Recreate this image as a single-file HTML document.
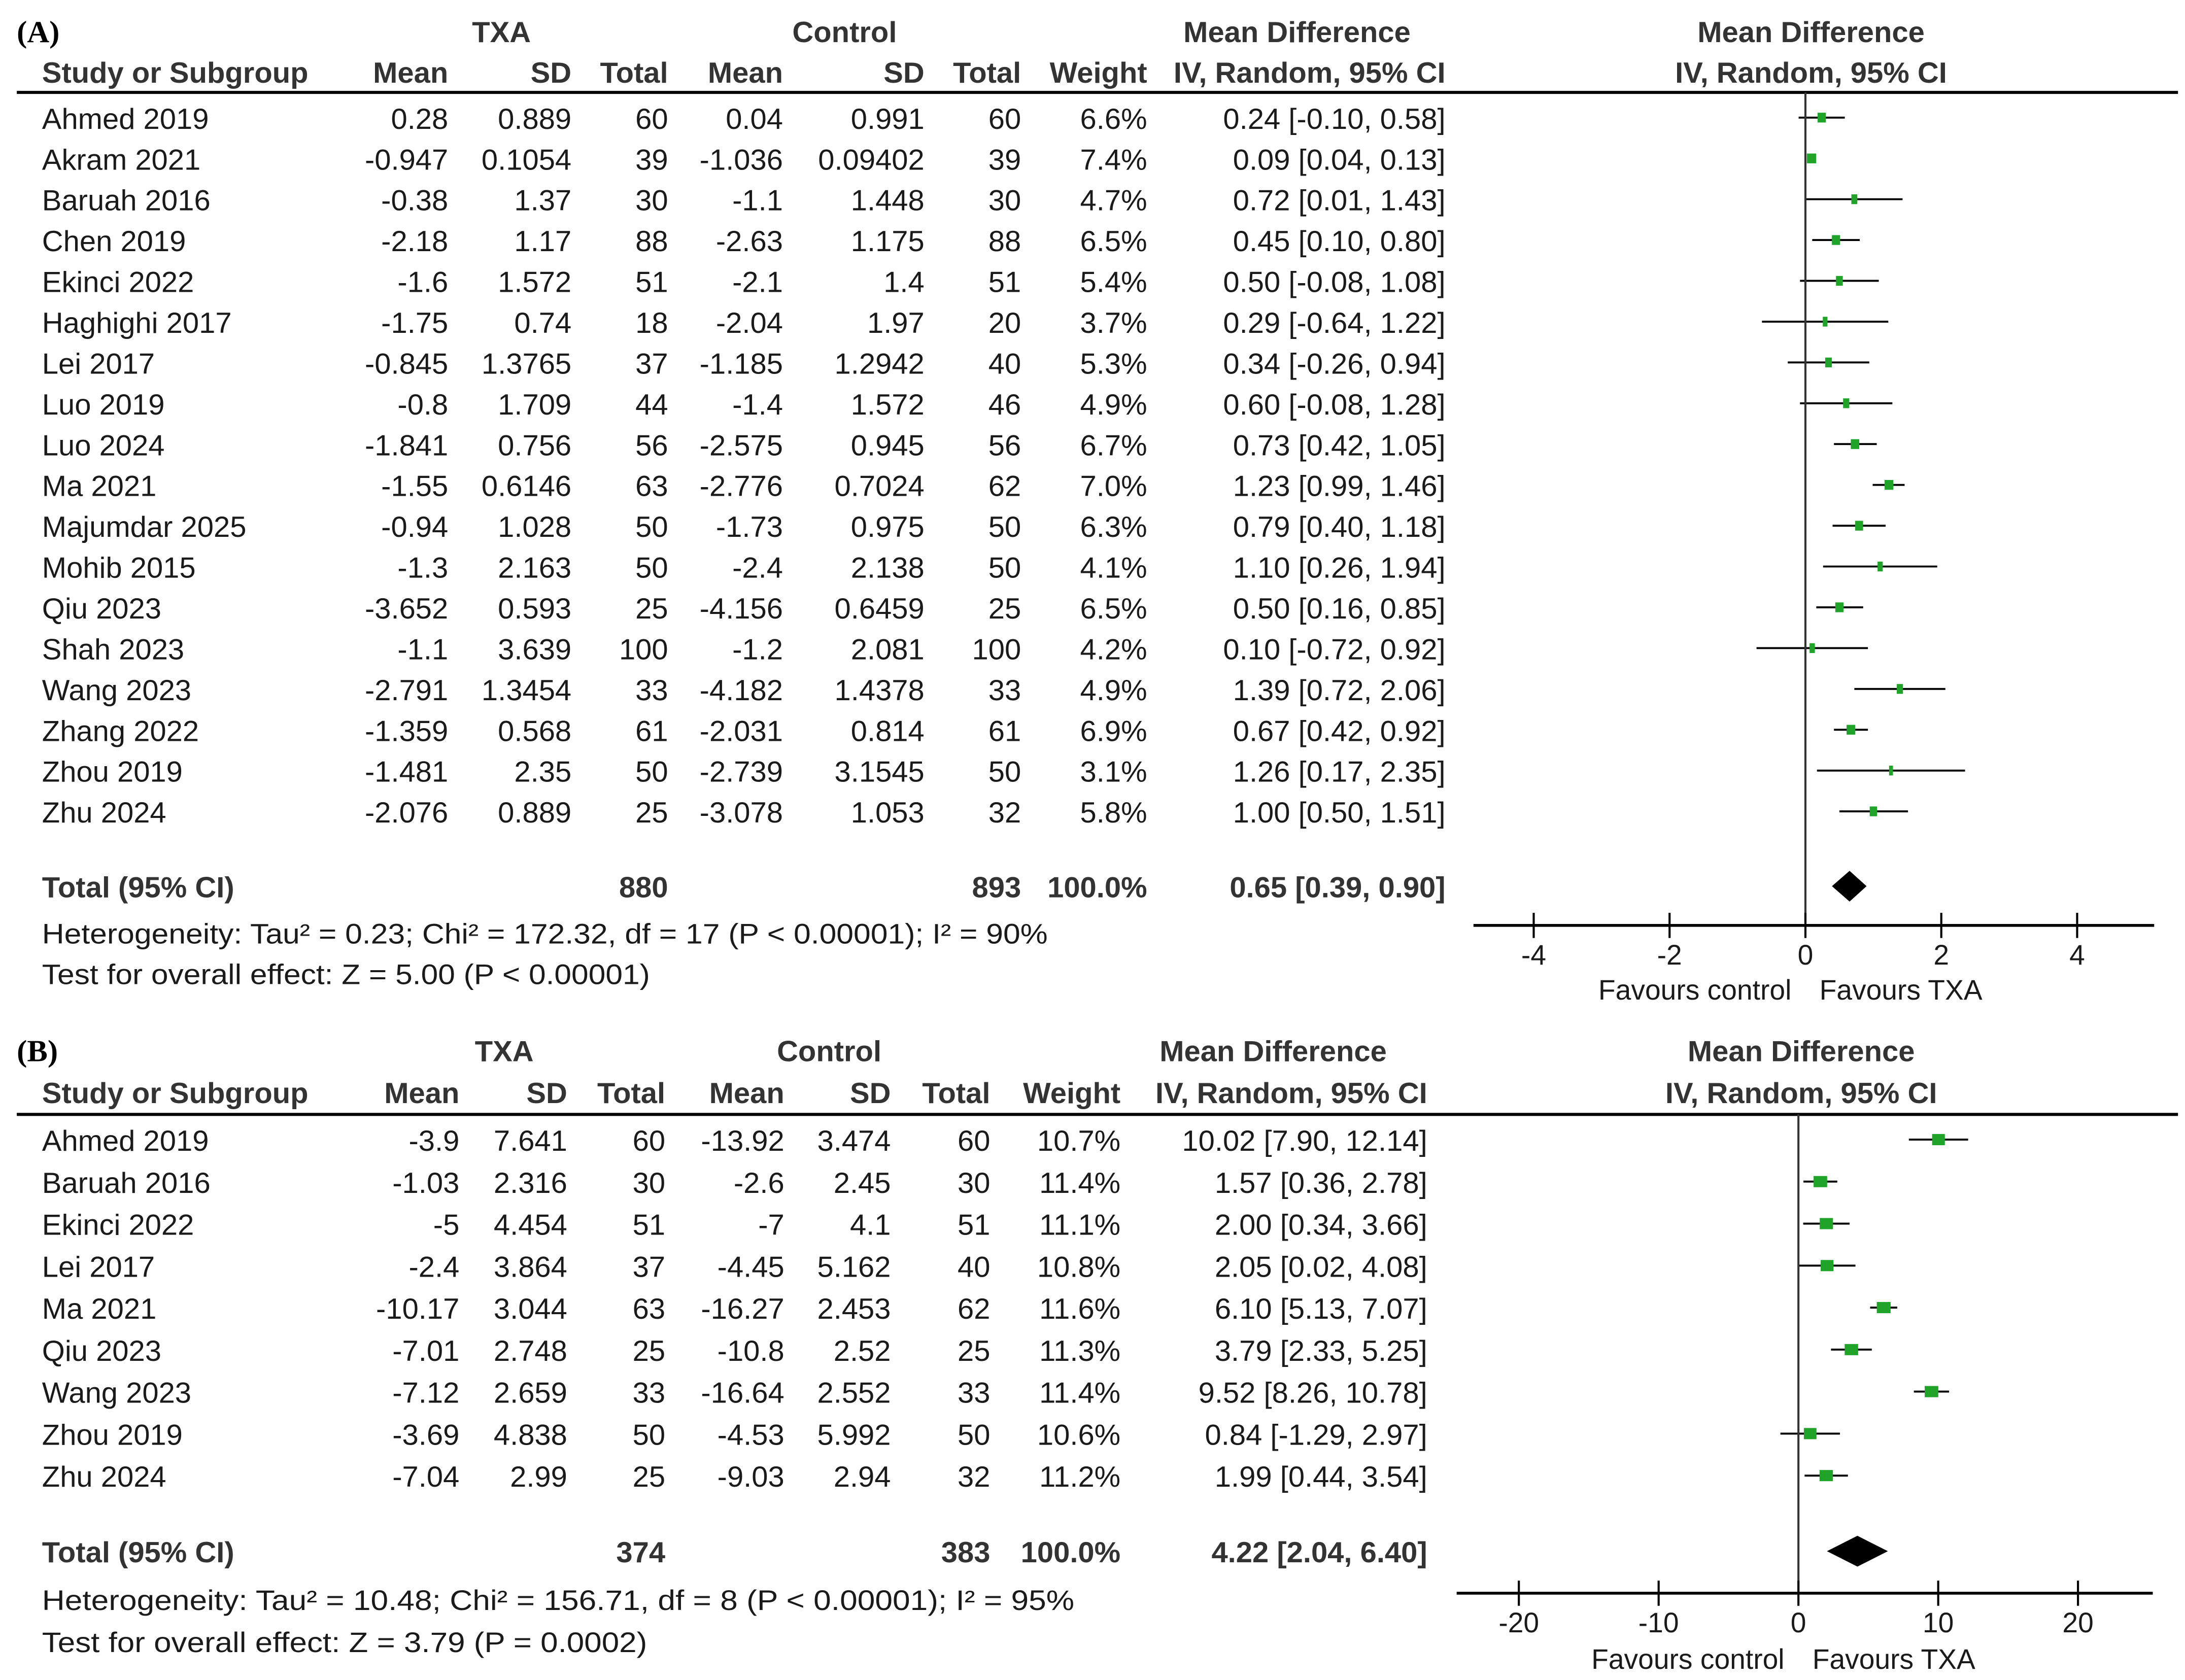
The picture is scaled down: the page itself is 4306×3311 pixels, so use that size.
<!DOCTYPE html>
<html><head><meta charset="utf-8"><style>
html,body{margin:0;padding:0;background:#fff}
svg{display:block}
text{font-family:"Liberation Sans",Arial,sans-serif;fill:#1a1a1a}
.b{font-weight:bold;fill:#333}
</style></head><body>
<svg id="chart" xmlns="http://www.w3.org/2000/svg" width="4306" height="3311" viewBox="0 0 1560 1200" preserveAspectRatio="none">
<rect width="1560" height="1200" fill="#fff"/>
</svg>
<script>
// Panel A data
const studiesA=["Ahmed 2019","Akram 2021","Baruah 2016","Chen 2019","Ekinci 2022","Haghighi 2017","Lei 2017","Luo 2019","Luo 2024","Ma 2021","Majumdar 2025","Mohib 2015","Qiu 2023","Shah 2023","Wang 2023","Zhang 2022","Zhou 2019","Zhu 2024"];
const txaMeanA=["0.28","-0.947","-0.38","-2.18","-1.6","-1.75","-0.845","-0.8","-1.841","-1.55","-0.94","-1.3","-3.652","-1.1","-2.791","-1.359","-1.481","-2.076"];
const txaSdA=["0.889","0.1054","1.37","1.17","1.572","0.74","1.3765","1.709","0.756","0.6146","1.028","2.163","0.593","3.639","1.3454","0.568","2.35","0.889"];
const txaNA=[60,39,30,88,51,18,37,44,56,63,50,50,25,100,33,61,50,25];
const ctlMeanA=["0.04","-1.036","-1.1","-2.63","-2.1","-2.04","-1.185","-1.4","-2.575","-2.776","-1.73","-2.4","-4.156","-1.2","-4.182","-2.031","-2.739","-3.078"];
const ctlSdA=["0.991","0.09402","1.448","1.175","1.4","1.97","1.2942","1.572","0.945","0.7024","0.975","2.138","0.6459","2.081","1.4378","0.814","3.1545","1.053"];
const ctlNA=[60,39,30,88,51,20,40,46,56,62,50,50,25,100,33,61,50,32];
const weightA=[6.6,7.4,4.7,6.5,5.4,3.7,5.3,4.9,6.7,7.0,6.3,4.1,6.5,4.2,4.9,6.9,3.1,5.8];
const mdA=[0.24,0.09,0.72,0.45,0.50,0.29,0.34,0.60,0.73,1.23,0.79,1.10,0.50,0.10,1.39,0.67,1.26,1.00];
const loA=[-0.10,0.04,0.01,0.10,-0.08,-0.64,-0.26,-0.08,0.42,0.99,0.40,0.26,0.16,-0.72,0.72,0.42,0.17,0.50];
const hiA=[0.58,0.13,1.43,0.80,1.08,1.22,0.94,1.28,1.05,1.46,1.18,1.94,0.85,0.92,2.06,0.92,2.35,1.51];
const totalA=[0.65,0.39,0.90];
const ticksA=[-4,-2,0,2,4];
// Panel B data
const studiesB=["Ahmed 2019","Baruah 2016","Ekinci 2022","Lei 2017","Ma 2021","Qiu 2023","Wang 2023","Zhou 2019","Zhu 2024"];
const txaMeanB=["-3.9","-1.03","-5","-2.4","-10.17","-7.01","-7.12","-3.69","-7.04"];
const txaSdB=["7.641","2.316","4.454","3.864","3.044","2.748","2.659","4.838","2.99"];
const txaNB=[60,30,51,37,63,25,33,50,25];
const ctlMeanB=["-13.92","-2.6","-7","-4.45","-16.27","-10.8","-16.64","-4.53","-9.03"];
const ctlSdB=["3.474","2.45","4.1","5.162","2.453","2.52","2.552","5.992","2.94"];
const ctlNB=[60,30,51,40,62,25,33,50,32];
const weightB=[10.7,11.4,11.1,10.8,11.6,11.3,11.4,10.6,11.2];
const mdB=[10.02,1.57,2.00,2.05,6.10,3.79,9.52,0.84,1.99];
const loB=[7.90,0.36,0.34,0.02,5.13,2.33,8.26,-1.29,0.44];
const hiB=[12.14,2.78,3.66,4.08,7.07,5.25,10.78,2.97,3.54];
const totalB=[4.22,2.04,6.40];
const ticksB=[-20,-10,0,10,20];

const svg=document.getElementById('chart');
const NS="http://www.w3.org/2000/svg";
function mk(tag,attrs,parent){const e=document.createElementNS(NS,tag);for(const k in attrs)e.setAttribute(k,attrs[k]);(parent||svg).appendChild(e);return e;}
function txt(x,y,s,anchor,cls,fs,parent){const t=mk('text',{x:x,y:y,'text-anchor':anchor||'start','font-size':fs||21},parent);if(cls)t.setAttribute('class',cls);t.textContent=s;return t;}
const f2=v=>v.toFixed(2);

function panel(P){
  const g=mk('g',{});
  
  
  const C=P.cols;
  const lab=txt(12,P.h1+8,P.label,'start','b',22,g);lab.setAttribute('style','fill:#000;font-family:"Liberation Serif",serif');
  
  txt(P.txaC,P.h1+8,'TXA','middle','b',21,g);
  txt(P.ctlC,P.h1+8,'Control','middle','b',21,g);
  txt(P.mdC,P.h1+8,'Mean Difference','middle','b',21,g);
  txt(P.plotC,P.h1+8,'Mean Difference','middle','b',21,g);
  const hdr=['Mean','SD','Total','Mean','SD','Total','Weight','IV, Random, 95% CI'];
  txt(30,P.h2+8,'Study or Subgroup','start','b',21,g);
  hdr.forEach((h,i)=>txt(C[i],P.h2+8,h,'end','b',21,g));
  txt(P.plotC,P.h2+8,'IV, Random, 95% CI','middle','b',21,g);
  const hl=mk('line',{x1:12,x2:1555,y1:P.line,y2:P.line,stroke:'#000','stroke-width':2.2},g);
  
  const sx=v=>P.zero+v*P.unit;
  const D=P.data;
  D.studies.forEach((s,i)=>{
    const y=P.r0+i*P.step;
    const row=mk('g',{},g);
    
    
    txt(30,y+8,s,'start',null,21,row);
    const vals=[D.tm[i],D.ts[i],D.tn[i],D.cm[i],D.cs[i],D.cn[i],D.w[i].toFixed(1)+'%',f2(D.md[i])+' ['+f2(D.lo[i])+', '+f2(D.hi[i])+']'];
    vals.forEach((v,j)=>txt(C[j],y+8,String(v),'end',null,21,row));
    const ci=mk('line',{x1:sx(D.lo[i]),x2:sx(D.hi[i]),y1:y,y2:y,stroke:'#000','stroke-width':1.4},row);
    
    const w=D.w[i]*P.sqk, h=P.sqh;
    const sq=mk('rect',{x:sx(D.md[i])-w/2,y:y-h/2,width:w,height:h,fill:'#1fa329'},row);
    
  });
  const ty=P.tot;
  txt(30,ty+8,'Total (95% CI)','start','b',21,g);
  const sumT=D.tn.reduce((a,b)=>a+b,0), sumC=D.cn.reduce((a,b)=>a+b,0);
  txt(C[2],ty+8,String(sumT),'end','b',21,g);
  txt(C[5],ty+8,String(sumC),'end','b',21,g);
  txt(C[6],ty+8,'100.0%','end','b',21,g);
  txt(C[7],ty+8,f2(D.total[0])+' ['+f2(D.total[1])+', '+f2(D.total[2])+']','end','b',21,g);
  const dm=mk('polygon',{points:`${sx(D.total[1])},${ty} ${sx(D.total[0])},${ty-P.dh} ${sx(D.total[2])},${ty} ${sx(D.total[0])},${ty+P.dh}`,fill:'#000'},g);
  
  const ht=txt(30,P.het+8,P.hetText,'start',null,20,g);
  ht.setAttribute('textLength',P.hetLen);ht.setAttribute('lengthAdjust','spacingAndGlyphs');
  const tt=txt(30,P.test+8,P.testText,'start',null,20,g);
  tt.setAttribute('textLength',P.testLen);tt.setAttribute('lengthAdjust','spacingAndGlyphs');
  const zl=mk('line',{x1:sx(0),x2:sx(0),y1:P.line,y2:P.axY,stroke:'#333','stroke-width':1.5},g);
  
  const ax=mk('line',{x1:P.axL,x2:P.axR,y1:P.axY,y2:P.axY,stroke:'#000','stroke-width':2},g);
  
  P.ticks.forEach(t=>{
    const tk=mk('line',{x1:sx(t),x2:sx(t),y1:P.axY-9,y2:P.axY+9,stroke:'#000','stroke-width':1.5},g);
    
    const tl=txt(sx(t),P.axY+28,String(t),'middle',null,20,g);
    
  });
  const fc=txt(sx(0)-10,P.fav+8,'Favours control','end',null,20,g);
  
  const ft=txt(sx(0)+10,P.fav+8,'Favours TXA','start',null,20,g);
  
}

panel({name:'panel-a',label:'(A)',h1:22,h2:51,line:66,r0:84,step:29.15,tot:633,het:666,test:695,
  cols:[320,408,477,559,660,729,819,1032],txaC:358,ctlC:603,mdC:926,plotC:1293,
  zero:1289,unit:48.5,axL:1052,axR:1538,axY:661,ticks:ticksA,fav:706,sqk:0.9,sqh:7,dh:11,
  hetLen:718,testLen:434,
  hetText:'Heterogeneity: Tau² = 0.23; Chi² = 172.32, df = 17 (P < 0.00001); I² = 90%',
  testText:'Test for overall effect: Z = 5.00 (P < 0.00001)',
  data:{studies:studiesA,tm:txaMeanA,ts:txaSdA,tn:txaNA,cm:ctlMeanA,cs:ctlSdA,cn:ctlNA,w:weightA,md:mdA,lo:loA,hi:hiA,total:totalA}});
panel({name:'panel-b',label:'(B)',h1:750,h2:780,line:796,r0:814,step:30,tot:1108,het:1142,test:1172,
  cols:[328,405,475,560,636,707,800,1019],txaC:360,ctlC:592,mdC:909,plotC:1286,
  zero:1284,unit:9.98,axL:1040,axR:1537,axY:1138,ticks:ticksB,fav:1184,sqk:0.85,sqh:8,dh:11,
  hetLen:737,testLen:432,
  hetText:'Heterogeneity: Tau² = 10.48; Chi² = 156.71, df = 8 (P < 0.00001); I² = 95%',
  testText:'Test for overall effect: Z = 3.79 (P = 0.0002)',
  data:{studies:studiesB,tm:txaMeanB,ts:txaSdB,tn:txaNB,cm:ctlMeanB,cs:ctlSdB,cn:ctlNB,w:weightB,md:mdB,lo:loB,hi:hiB,total:totalB}});
</script>
</body></html>
